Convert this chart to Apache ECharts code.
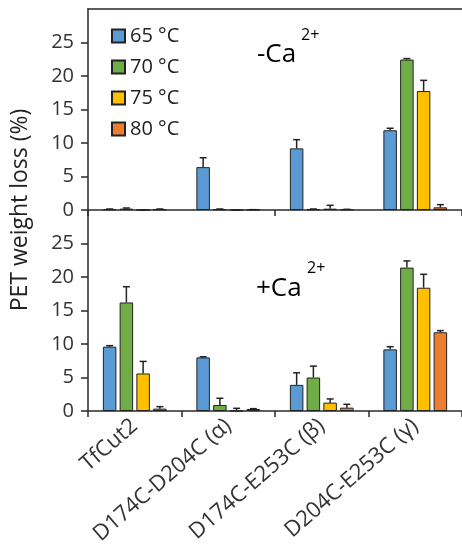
<!DOCTYPE html>
<html>
<head>
<meta charset="utf-8">
<script src="https://cdn.jsdelivr.net/npm/echarts@6/dist/echarts.min.js"></script>
<style>html,body{margin:0;padding:0;background:#fff;}#c{width:462px;height:550px;}</style>
</head>
<body>
<div id="c"></div>
<script>
const categories = ['TfCut2', 'D174C-D204C (α)', 'D174C-E253C (β)', 'D204C-E253C (γ)'];
const temps = ['65 °C', '70 °C', '75 °C', '80 °C'];
const colors = ['#5B9BD5', '#70AD47', '#FFC000', '#ED7D31'];
const yTicks = [0, 5, 10, 15, 20, 25];

// -Ca2+ panel
const noCa65 = [0.1, 6.4, 9.2, 11.9];
const noCa70 = [0.2, 0.1, 0.1, 22.45];
const noCa75 = [0.0, 0.0, 0.2, 17.75];
const noCa80 = [0.1, 0.05, 0.1, 0.4];
const noCa65Err = [0.05, 1.4, 1.3, 0.3];
const noCa70Err = [0.1, 0.05, 0.05, 0.15];
const noCa75Err = [0.0, 0.0, 0.5, 1.6];
const noCa80Err = [0.05, 0.0, 0.0, 0.4];

// +Ca2+ panel
const withCa65 = [9.6, 8.0, 3.9, 9.2];
const withCa70 = [16.2, 0.9, 5.0, 21.4];
const withCa75 = [5.6, 0.05, 1.25, 18.4];
const withCa80 = [0.35, 0.3, 0.5, 11.75];
const withCa65Err = [0.15, 0.1, 1.8, 0.4];
const withCa70Err = [2.35, 1.0, 1.7, 1.0];
const withCa75Err = [1.8, 0.35, 0.55, 2.0];
const withCa80Err = [0.3, 0.05, 0.5, 0.25];

const topVals = [noCa65, noCa70, noCa75, noCa80];
const topErrs = [noCa65Err, noCa70Err, noCa75Err, noCa80Err];
const botVals = [withCa65, withCa70, withCa75, withCa80];
const botErrs = [withCa65Err, withCa70Err, withCa75Err, withCa80Err];

const BAR_W = 13.5;
const BAR_GAP = 0.24;
const STEP = BAR_W * (1 + BAR_GAP);
const FONT = '"Open Sans", "DejaVu Sans", sans-serif';
const AX = '#2a2a2a';

function errData(vals, errs) {
  const out = [];
  vals.forEach((arr, k) => arr.forEach((v, i) => out.push([i, v, errs[k][i], k])));
  return out;
}

function renderErr(params, api) {
  const cat = api.value(0), v = api.value(1), e = api.value(2), k = api.value(3);
  const off = (k - 1.5) * STEP;
  const p0 = api.coord([cat, v]);
  const p1 = api.coord([cat, v + e]);
  const x = p0[0] + off;
  const st = { stroke: '#222', lineWidth: 1.5 };
  return {
    type: 'group',
    children: [
      { type: 'line', shape: { x1: x, y1: p0[1], x2: x, y2: p1[1] }, style: st },
      { type: 'line', shape: { x1: x - 3.5, y1: p1[1], x2: x + 3.5, y2: p1[1] }, style: st }
    ]
  };
}

function yAxis(gi) {
  return {
    type: 'value', gridIndex: gi, min: 0, max: 30, interval: 5,
    axisLine: { show: true, lineStyle: { color: AX, width: 1.5 } },
    axisTick: { show: true, length: 7, lineStyle: { color: AX, width: 1.5 } },
    splitLine: { show: false },
    axisLabel: {
      showMaxLabel: false, fontSize: 20, color: '#333', fontFamily: FONT, margin: 14,
      formatter: v => (yTicks.indexOf(v) >= 0 ? String(v) : '')
    }
  };
}

const series = [];
topVals.forEach((arr, k) => series.push({
  name: temps[k], type: 'bar', xAxisIndex: 0, yAxisIndex: 0, data: arr,
  barWidth: BAR_W, barGap: (BAR_GAP * 100) + '%',
  itemStyle: { color: colors[k], borderColor: '#222', borderWidth: 1 }
}));
botVals.forEach((arr, k) => series.push({
  name: temps[k], type: 'bar', xAxisIndex: 1, yAxisIndex: 1, data: arr,
  barWidth: BAR_W, barGap: (BAR_GAP * 100) + '%',
  itemStyle: { color: colors[k], borderColor: '#222', borderWidth: 1 }
}));
series.push({ type: 'custom', xAxisIndex: 0, yAxisIndex: 0, data: errData(topVals, topErrs),
  encode: { x: 0, y: 1 }, renderItem: renderErr, z: 5, silent: true });
series.push({ type: 'custom', xAxisIndex: 1, yAxisIndex: 1, data: errData(botVals, botErrs),
  encode: { x: 0, y: 1 }, renderItem: renderErr, z: 5, silent: true });

const chart = echarts.init(document.getElementById('c'), null, { renderer: 'canvas' });
chart.setOption({
  animation: false,
  backgroundColor: '#fff',
  grid: [
    { left: 88, right: 0, top: 9, height: 201 },
    { left: 88, right: 0, top: 210, height: 201 }
  ],
  xAxis: [
    { type: 'category', gridIndex: 0, data: categories,
      axisLine: { lineStyle: { color: AX, width: 1.5 } },
      axisTick: { show: true, length: 6, lineStyle: { color: AX, width: 1.5 } },
      axisLabel: { show: false } },
    { type: 'category', gridIndex: 1, data: categories,
      axisLine: { lineStyle: { color: AX, width: 1.5 } },
      axisTick: { show: true, length: 6, lineStyle: { color: AX, width: 1.5 } },
      axisLabel: { rotate: 41, fontSize: 22, color: '#333', fontFamily: FONT, margin: 12, interval: 0 } },
    { type: 'category', gridIndex: 0, position: 'top', data: categories,
      axisLine: { show: true, lineStyle: { color: AX, width: 1.5 } },
      axisTick: { show: false }, axisLabel: { show: false } }
  ],
  yAxis: [yAxis(0), yAxis(1)],
  legend: {
    data: temps, orient: 'vertical', left: 106, top: 21,
    itemWidth: 13, itemHeight: 13, itemGap: 11, icon: 'rect',
    textStyle: { fontSize: 20, color: '#222', fontFamily: FONT }
  },
  graphic: [
    { type: 'text', left: 257, top: 42, style: { text: '-Ca', font: '26px ' + FONT, fill: '#000' } },
    { type: 'text', left: 301, top: 27, style: { text: '2+', font: '16px ' + FONT, fill: '#000' } },
    { type: 'text', left: 256, top: 276, style: { text: '+Ca', font: '26px ' + FONT, fill: '#000' } },
    { type: 'text', left: 307, top: 260, style: { text: '2+', font: '16px ' + FONT, fill: '#000' } },
    { type: 'text', x: 20, y: 210, rotation: Math.PI / 2,
      style: { text: 'PET weight loss (%)', font: '23px ' + FONT, fill: '#222', textAlign: 'center', textVerticalAlign: 'middle' } }
  ],
  series: series
});
</script>
</body>
</html>
